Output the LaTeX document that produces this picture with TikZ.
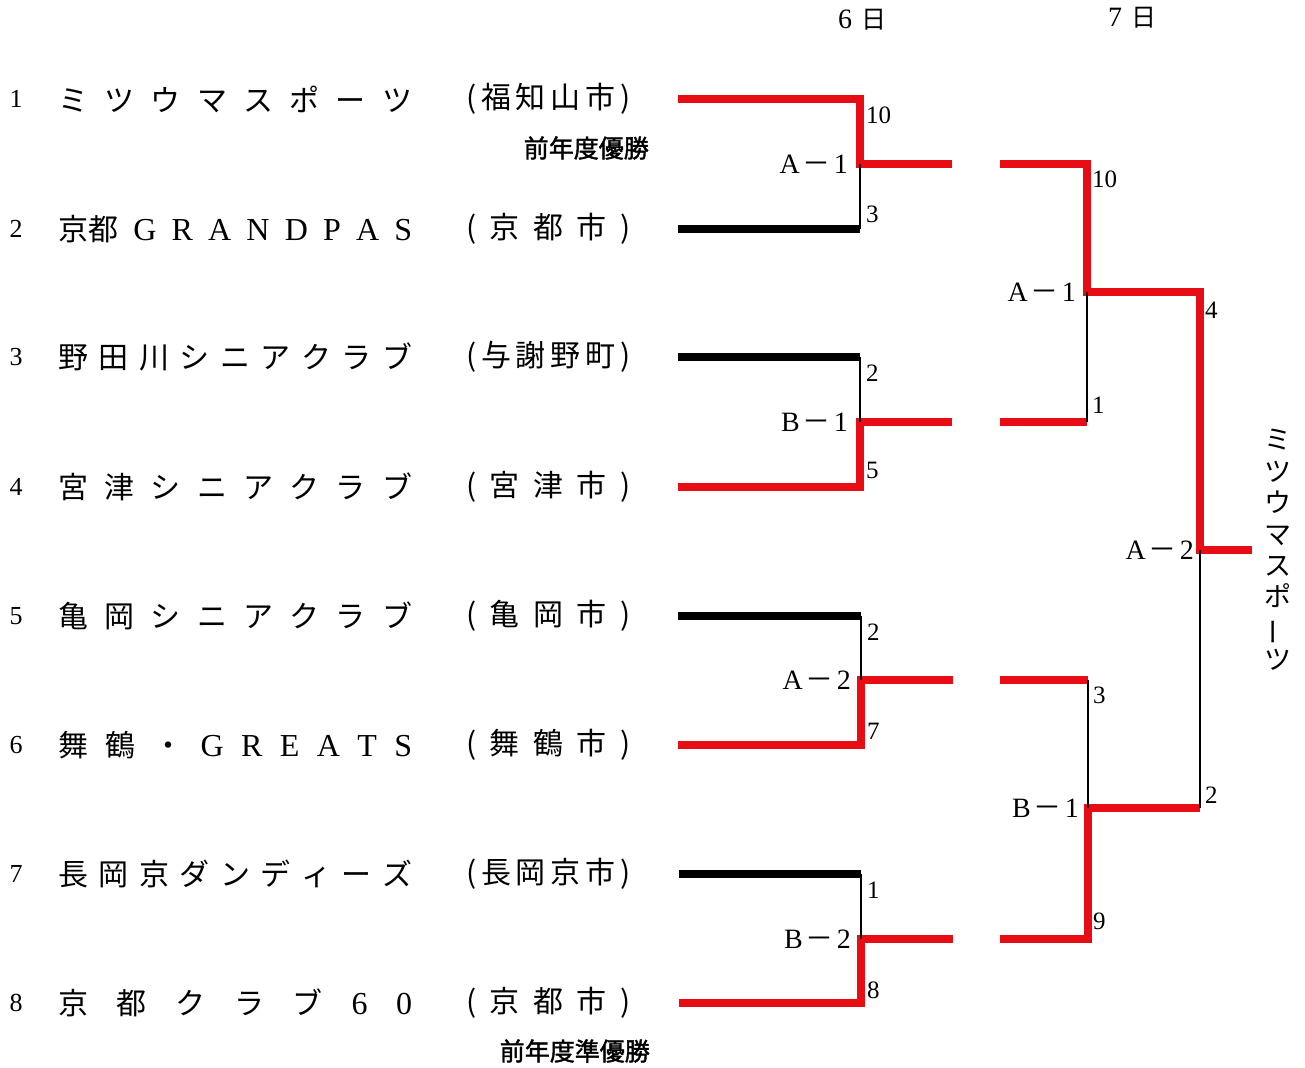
\documentclass[tikz,border=0pt]{standalone}
\usepackage{fontspec}
\setmainfont{Liberation Serif}
\newfontfamily\cjk{Noto Sans CJK JP}
\newfontfamily\cjkb[FakeBold=1.6]{Noto Sans CJK JP}
\definecolor{bred}{RGB}{232,12,20}
\newcommand\spreadbox[2]{\makebox[#1][l]{#2}}
\begin{document}
\begin{tikzpicture}[x=1pt,y=-1pt,
  win/.style={draw=bred,line width=7.5pt,line join=miter},
  lose/.style={draw=black,line width=7.5pt},
  thinline/.style={draw=black,line width=2pt},
  num/.style={inner sep=0pt,font=\fontsize{26}{26}\selectfont},
  team/.style={anchor=west,inner sep=0pt,font=\fontsize{32}{32}\selectfont},
  city/.style={anchor=west,inner sep=0pt,font=\cjk\fontsize{30}{30}\selectfont},
  score/.style={anchor=west,inner sep=0pt,font=\fontsize{25}{25}\selectfont},
  mlabel/.style={anchor=east,inner sep=0pt,font=\fontsize{28}{28}\selectfont},
  note/.style={anchor=east,inner sep=0pt,font=\cjkb\fontsize{25}{25}\selectfont},
  head/.style={inner sep=0pt,font=\fontsize{28}{28}\selectfont},
]
\useasboundingbox (0,0) rectangle (1305,1067);
\fill[white] (0,0) rectangle (1305,1067);

% headers
\node[head] (d6) at (862,20) {6\hspace{9pt}{\cjk\fontsize{25}{25}\selectfont 日}};
\node[head] (d7) at (1132,18) {7\hspace{9pt}{\cjk\fontsize{25}{25}\selectfont 日}};

% team numbers
\node[num] (n1) at (16,99) {1};
\node[num] (n2) at (16,229) {2};
\node[num] (n3) at (16,357) {3};
\node[num] (n4) at (16,487) {4};
\node[num] (n5) at (16,616) {5};
\node[num] (n6) at (16,745) {6};
\node[num] (n7) at (16,874) {7};
\node[num] (n8) at (16,1003) {8};

% team names
\node[team] (t1) at (58,99) {\spreadbox{354pt}{\cjk\fontsize{30}{30}\selectfont ミ\hfill ツ\hfill ウ\hfill マ\hfill ス\hfill ポ\hfill ー\hfill ツ}};
\node[team] (t2) at (58,229) {\spreadbox{354pt}{{\cjk\fontsize{30}{30}\selectfont 京都}\hfill G\hfill R\hfill A\hfill N\hfill D\hfill P\hfill A\hfill S}};
\node[team] (t3) at (58,357) {\spreadbox{354pt}{\cjk\fontsize{30}{30}\selectfont 野\hfill 田\hfill 川\hfill シ\hfill ニ\hfill ア\hfill ク\hfill ラ\hfill ブ}};
\node[team] (t4) at (58,487) {\spreadbox{354pt}{\cjk\fontsize{30}{30}\selectfont 宮\hfill 津\hfill シ\hfill ニ\hfill ア\hfill ク\hfill ラ\hfill ブ}};
\node[team] (t5) at (58,616) {\spreadbox{354pt}{\cjk\fontsize{30}{30}\selectfont 亀\hfill 岡\hfill シ\hfill ニ\hfill ア\hfill ク\hfill ラ\hfill ブ}};
\node[team] (t6) at (58,745) {\spreadbox{354pt}{{\cjk\fontsize{30}{30}\selectfont 舞\hfill 鶴\hfill ・}\hfill G\hfill R\hfill E\hfill A\hfill T\hfill S}};
\node[team] (t7) at (58,874) {\spreadbox{354pt}{\cjk\fontsize{30}{30}\selectfont 長\hfill 岡\hfill 京\hfill ダ\hfill ン\hfill デ\hfill ィ\hfill ー\hfill ズ}};
\node[team] (t8) at (58,1003) {\spreadbox{354pt}{{\cjk\fontsize{30}{30}\selectfont 京\hfill 都\hfill ク\hfill ラ\hfill ブ}\hfill 6\hfill 0}};

% cities
\node[city] (c1) at (466,99) {\spreadbox{164pt}{(\hfill 福\hfill 知\hfill 山\hfill 市\hfill )}};
\node[city] (c2) at (466,229) {\spreadbox{164pt}{(\hfill 京\hfill 都\hfill 市\hfill )}};
\node[city] (c3) at (466,357) {\spreadbox{164pt}{(\hfill 与\hfill 謝\hfill 野\hfill 町\hfill )}};
\node[city] (c4) at (466,487) {\spreadbox{164pt}{(\hfill 宮\hfill 津\hfill 市\hfill )}};
\node[city] (c5) at (466,616) {\spreadbox{164pt}{(\hfill 亀\hfill 岡\hfill 市\hfill )}};
\node[city] (c6) at (466,745) {\spreadbox{164pt}{(\hfill 舞\hfill 鶴\hfill 市\hfill )}};
\node[city] (c7) at (466,874) {\spreadbox{164pt}{(\hfill 長\hfill 岡\hfill 京\hfill 市\hfill )}};
\node[city] (c8) at (466,1003) {\spreadbox{164pt}{(\hfill 京\hfill 都\hfill 市\hfill )}};

\node[note] (p1) at (649,148) {前年度優勝};
\node[note] (p2) at (650,1051) {前年度準優勝};

% ---------- round 1 ----------
% M1 (A-1): top wins
\coordinate (m1t) at (678,99);  \coordinate (m1tc) at (860,99);
\coordinate (m1b) at (678,229); \coordinate (m1bc) at (860,229);
\coordinate (m1m) at (860,164); \coordinate (m1o) at (952,164);
\draw[win] (m1t) -- (m1tc) -- (m1m) -- (m1o);
\draw[lose] (m1b) -- (m1bc);
\draw[thinline] (m1bc) -- (m1m);
% M2 (B-1): bottom wins
\coordinate (m2t) at (678,357);  \coordinate (m2tc) at (860,357);
\coordinate (m2b) at (678,487);  \coordinate (m2bc) at (860,487);
\coordinate (m2m) at (860,422);  \coordinate (m2o) at (952,422);
\draw[win] (m2b) -- (m2bc) -- (m2m) -- (m2o);
\draw[lose] (m2t) -- (m2tc);
\draw[thinline] (m2tc) -- (m2m);
% M3 (A-2): bottom wins
\coordinate (m3t) at (678,616);  \coordinate (m3tc) at (861,616);
\coordinate (m3b) at (678,745);  \coordinate (m3bc) at (861,745);
\coordinate (m3m) at (861,680);  \coordinate (m3o) at (953,680);
\draw[win] (m3b) -- (m3bc) -- (m3m) -- (m3o);
\draw[lose] (m3t) -- (m3tc);
\draw[thinline] (m3tc) -- (m3m);
% M4 (B-2): bottom wins
\coordinate (m4t) at (679,874);  \coordinate (m4tc) at (861,874);
\coordinate (m4b) at (679,1003); \coordinate (m4bc) at (861,1003);
\coordinate (m4m) at (861,939);  \coordinate (m4o) at (953,939);
\draw[win] (m4b) -- (m4bc) -- (m4m) -- (m4o);
\draw[lose] (m4t) -- (m4tc);
\draw[thinline] (m4tc) -- (m4m);

% ---------- round 2 ----------
\coordinate (s1t) at (1000,164); \coordinate (s1tc) at (1087,164);
\coordinate (s1b) at (1000,422); \coordinate (s1bc) at (1087,422);
\coordinate (s1m) at (1087,292); \coordinate (s1o) at (1200,292);
\coordinate (s2t) at (1000,680); \coordinate (s2tc) at (1088,680);
\coordinate (s2b) at (1000,939); \coordinate (s2bc) at (1088,939);
\coordinate (s2m) at (1088,808); \coordinate (s2o) at (1200,808);
\coordinate (fm) at (1200,550);  \coordinate (fo) at (1252,550);
\draw[win] (s1t) -- (s1tc) -- (s1m) -- (s1o) -- (fm) -- (fo);
\draw[win] (s1b) -- (s1bc);
\draw[thinline] (s1bc) -- (s1m);
\draw[win] (s2b) -- (s2bc) -- (s2m) -- (s2o);
\draw[win] (s2t) -- (s2tc);
\draw[thinline] (s2tc) -- (s2m);
\draw[thinline] (s2o) -- (fm);

% ---------- match labels ----------
\node[mlabel] (l1) at (848,164) {A\hspace{3pt}{\cjk －}\hspace{3pt}1};
\node[mlabel] (l2) at (848,422) {B\hspace{3pt}{\cjk －}\hspace{3pt}1};
\node[mlabel] (l3) at (851,680) {A\hspace{3pt}{\cjk －}\hspace{3pt}2};
\node[mlabel] (l4) at (851,939) {B\hspace{3pt}{\cjk －}\hspace{3pt}2};
\node[mlabel] (l5) at (1076,292) {A\hspace{3pt}{\cjk －}\hspace{3pt}1};
\node[mlabel] (l6) at (1079,808) {B\hspace{3pt}{\cjk －}\hspace{3pt}1};
\node[mlabel] (l7) at (1194,550) {A\hspace{3pt}{\cjk －}\hspace{3pt}2};

% ---------- scores ----------
\node[score] (s11) at (866,115) {10};
\node[score] (s12) at (866,214) {3};
\node[score] (s21) at (866,373) {2};
\node[score] (s22) at (866,470) {5};
\node[score] (s31) at (867,632) {2};
\node[score] (s32) at (867,731) {7};
\node[score] (s41) at (867,890) {1};
\node[score] (s42) at (867,990) {8};
\node[score] (r11) at (1092,179) {10};
\node[score] (r12) at (1092,405) {1};
\node[score] (r21) at (1093,695) {3};
\node[score] (r22) at (1093,921) {9};
\node[score] (f1) at (1205,310) {4};
\node[score] (f2) at (1205,795) {2};

% ---------- champion (vertical) ----------
\node[inner sep=0pt,align=center,font=\cjk\fontsize{27}{31.4}\selectfont] (champ) at (1278,550)
  {ミ\\ツ\\ウ\\マ\\ス\\ポ\\\rotatebox[origin=c]{90}{ー}\\ツ};
\end{tikzpicture}
\end{document}
